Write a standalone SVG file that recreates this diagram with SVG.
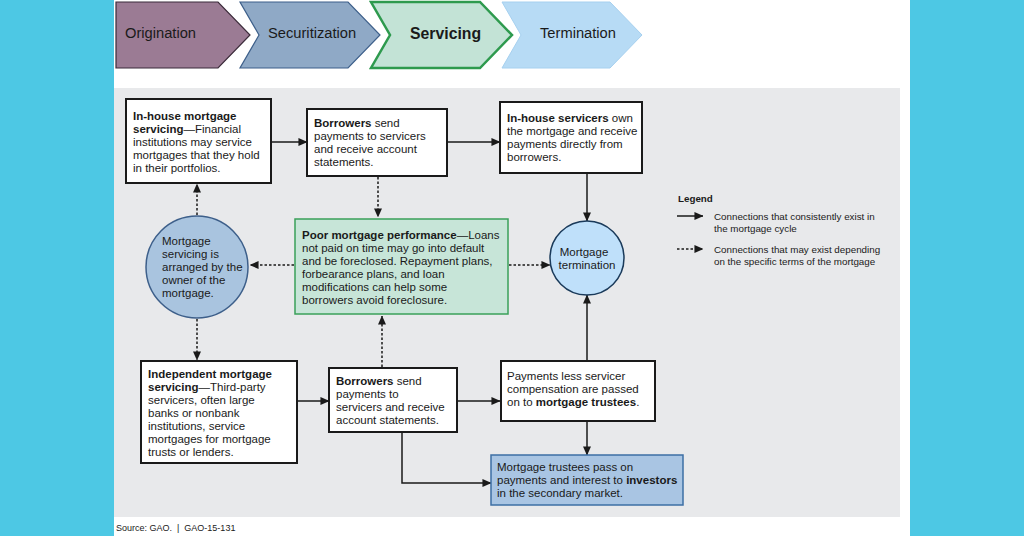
<svg xmlns="http://www.w3.org/2000/svg" width="1024" height="536" viewBox="0 0 1024 536">
<style>
text{font-family:"Liberation Sans",Arial,sans-serif;fill:#1a1a1a}
.t{font-size:11.5px}
.b{font-weight:bold}
.lg{font-size:9.8px}
.box{fill:#fff;stroke:#1a1a1a;stroke-width:2}
.sol{stroke:#1a1a1a;stroke-width:1.5;fill:none;marker-end:url(#ah)}
.dsh{stroke:#1a1a1a;stroke-width:1.5;fill:none;stroke-dasharray:2.5 2;marker-end:url(#ah)}
.chev{font-size:14.7px}
</style>
<defs>
<marker id="ah" viewBox="0 0 10 10" refX="9.5" refY="5" markerWidth="9" markerHeight="8" markerUnits="userSpaceOnUse" orient="auto" preserveAspectRatio="none">
<path d="M0,0 L10,5 L0,10 z" fill="#1a1a1a"/>
</marker>
</defs>
<rect x="0" y="0" width="1024" height="536" fill="#4dc8e4"/>
<rect x="114" y="0" width="796" height="536" fill="#ffffff"/>
<rect x="114" y="88" width="786" height="429" fill="#e8e9eb"/>

<g id="chevrons">
<path d="M116,2 L218,2 L250,35 L218,68 L116,68 z" fill="#9b7b94" stroke="#3b2b3a" stroke-width="1.2"/>
<text x="125" y="38" class="chev">Origination</text>
<path d="M240,2 L348,2 L380,35 L348,68 L240,68 L259,35 z" fill="#8fa9c6" stroke="#3d5f8a" stroke-width="1.2"/>
<text x="268" y="38" class="chev">Securitization</text>
<path d="M371,2 L480,2 L512,35 L480,68 L371,68 L390,35 z" fill="#c3e3d6" stroke="#2e9a4e" stroke-width="2.5"/>
<text x="410" y="39" class="b" style="font-size:15.8px">Servicing</text>
<path d="M502,2 L610,2 L642,35 L610,68 L502,68 L521,35 z" fill="#b7dbf5" stroke="#a6d0ef" stroke-width="1"/>
<text x="540" y="38" class="chev">Termination</text>
</g>

<g id="connectors">
<line x1="271" y1="142" x2="307" y2="142" class="sol"/>
<line x1="447" y1="142" x2="500" y2="142" class="sol"/>
<line x1="587" y1="173" x2="587" y2="221" class="sol"/>
<line x1="378" y1="177" x2="378" y2="217" class="dsh"/>
<line x1="197" y1="215" x2="197" y2="184" class="dsh"/>
<line x1="294" y1="265" x2="250" y2="265" class="dsh"/>
<line x1="509" y1="265" x2="550" y2="265" class="dsh"/>
<line x1="197" y1="319" x2="197" y2="360" class="dsh"/>
<line x1="382" y1="367" x2="382" y2="316" class="dsh"/>
<line x1="297" y1="401" x2="329" y2="401" class="sol"/>
<line x1="457" y1="401" x2="500" y2="401" class="sol"/>
<line x1="587" y1="361" x2="587" y2="295" class="sol"/>
<line x1="587" y1="421" x2="587" y2="455" class="sol"/>
<polyline points="402,432 402,483 491,483" class="sol"/>
</g>

<g id="inhouse-servicing">
<rect x="126" y="99" width="145" height="84" class="box"/>
<text class="t" x="133"><tspan x="133" y="120" class="b">In-house mortgage</tspan><tspan x="133" y="133"><tspan class="b">servicing</tspan>—Financial</tspan><tspan x="133" y="146">institutions may service</tspan><tspan x="133" y="159">mortgages that they hold</tspan><tspan x="133" y="172">in their portfolios.</tspan></text>
</g>

<g id="borrowers-top">
<rect x="307" y="109" width="140" height="67" class="box"/>
<text class="t"><tspan x="314" y="127"><tspan class="b">Borrowers</tspan> send</tspan><tspan x="314" y="140">payments to servicers</tspan><tspan x="314" y="153">and receive account</tspan><tspan x="314" y="166">statements.</tspan></text>
</g>

<g id="inhouse-servicers">
<rect x="500" y="102" width="142" height="71" class="box"/>
<text class="t"><tspan x="507" y="122"><tspan class="b">In-house servicers</tspan> own</tspan><tspan x="507" y="135">the mortgage and receive</tspan><tspan x="507" y="148">payments directly from</tspan><tspan x="507" y="161">borrowers.</tspan></text>
</g>

<g id="owner-circle">
<circle cx="197" cy="267" r="51" fill="#a9c4df" stroke="#3d5f8a" stroke-width="1.5"/>
<text class="t"><tspan x="162" y="245">Mortgage</tspan><tspan x="162" y="258">servicing is</tspan><tspan x="162" y="271">arranged by the</tspan><tspan x="162" y="284">owner of the</tspan><tspan x="162" y="297">mortgage.</tspan></text>
</g>

<g id="poor-performance">
<rect x="295" y="219" width="213" height="95" fill="#c7e5d8" stroke="#3aa05a" stroke-width="1.5"/>
<text class="t"><tspan x="302" y="239"><tspan class="b">Poor mortgage performance</tspan>—Loans</tspan><tspan x="302" y="252">not paid on time may go into default</tspan><tspan x="302" y="265">and be foreclosed. Repayment plans,</tspan><tspan x="302" y="278">forbearance plans, and loan</tspan><tspan x="302" y="291">modifications can help some</tspan><tspan x="302" y="304">borrowers avoid foreclosure.</tspan></text>
</g>

<g id="termination-circle">
<circle cx="587" cy="258" r="37" fill="#bfe0fa" stroke="#1a3a5a" stroke-width="1.5"/>
<text class="t" text-anchor="middle"><tspan x="584" y="256">Mortgage</tspan><tspan x="587" y="269">termination</tspan></text>
</g>

<g id="independent-servicing">
<rect x="141" y="361" width="156" height="102" class="box"/>
<text class="t"><tspan x="148" y="378" class="b">Independent mortgage</tspan><tspan x="148" y="391"><tspan class="b">servicing</tspan>—Third-party</tspan><tspan x="148" y="404">servicers, often large</tspan><tspan x="148" y="417">banks or nonbank</tspan><tspan x="148" y="430">institutions, service</tspan><tspan x="148" y="443">mortgages for mortgage</tspan><tspan x="148" y="456">trusts or lenders.</tspan></text>
</g>

<g id="borrowers-bottom">
<rect x="329" y="368" width="128" height="64" class="box"/>
<text class="t"><tspan x="336" y="385"><tspan class="b">Borrowers</tspan> send</tspan><tspan x="336" y="398">payments to</tspan><tspan x="336" y="411">servicers and receive</tspan><tspan x="336" y="424">account statements.</tspan></text>
</g>

<g id="payments-less">
<rect x="501" y="361" width="154" height="60" class="box"/>
<text class="t"><tspan x="507" y="380">Payments less servicer</tspan><tspan x="507" y="393">compensation are passed</tspan><tspan x="507" y="406">on to <tspan class="b">mortgage trustees</tspan>.</tspan></text>
</g>

<g id="trustees">
<rect x="491" y="455" width="192" height="50" fill="#a9c5e3" stroke="#3d6fa5" stroke-width="1.5"/>
<text class="t"><tspan x="497" y="471">Mortgage trustees pass on</tspan><tspan x="497" y="484">payments and interest to <tspan class="b">investors</tspan></tspan><tspan x="497" y="497">in the secondary market.</tspan></text>
</g>

<g id="legend">
<text x="678" y="202" class="b" style="font-size:9.8px">Legend</text>
<line x1="677" y1="216" x2="703" y2="216" class="sol"/>
<text class="lg"><tspan x="714" y="220">Connections that consistently exist in</tspan><tspan x="714" y="232">the mortgage cycle</tspan></text>
<line x1="677" y1="249" x2="703" y2="249" class="dsh"/>
<text class="lg"><tspan x="714" y="253">Connections that may exist depending</tspan><tspan x="714" y="265">on the specific terms of the mortgage</tspan></text>
</g>

<text x="116" y="531" style="font-size:9px;white-space:pre">Source: GAO.  |  GAO-15-131</text>
</svg>
